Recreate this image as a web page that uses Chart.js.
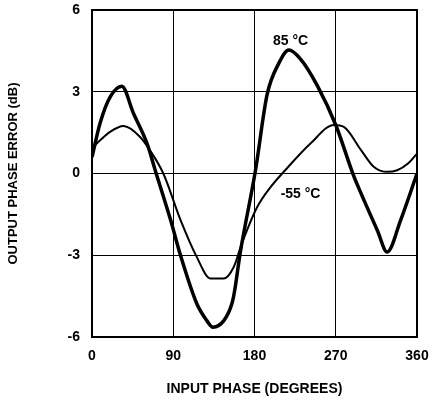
<!DOCTYPE html>
<html>
<head>
<meta charset="utf-8">
<script src="https://cdn.jsdelivr.net/npm/chart.js@4/dist/chart.umd.min.js"></script>
<style>
  html, body { margin: 0; padding: 0; background: #fff; }
  #wrap { width: 437px; height: 405px; }
</style>
</head>
<body>
<div id="wrap"><canvas id="phaseChart" width="437" height="405"></canvas></div>
<script>
// Input phase (degrees) and output phase error (dB)
const phaseHot = [0, 9, 20, 33, 46, 61, 70, 87, 98, 116, 127, 134, 146, 155, 158, 164, 181, 194, 207, 218, 231, 250, 270, 290, 298, 316, 327, 342, 360];
const errorHot = [0.6, 1.85, 2.8, 3.2, 2.2, 1.1, 0.12, -1.7, -3.0, -4.77, -5.39, -5.64, -5.4, -4.77, -4.3, -2.95, 0.1, 2.9, 4.05, 4.53, 4.2, 3.2, 1.78, -0.1, -0.73, -2.08, -2.88, -1.7, 0];

const phaseCold = [0, 9, 20, 35, 53, 64, 79, 98, 116, 131, 146, 157, 166, 183, 198, 214, 242, 268, 279, 298, 312, 327, 338, 350, 360];
const errorCold = [0.93, 1.22, 1.53, 1.74, 1.35, 0.86, 0, -1.7, -3.06, -3.85, -3.85, -3.43, -2.57, -1.23, -0.49, 0.12, 1.1, 1.78, 1.71, 0.86, 0.25, 0.06, 0.12, 0.37, 0.73];

const xTicks = [0, 90, 180, 270, 360];
const yTicks = [-6, -3, 0, 3, 6];

// curve labels: [text, phase, error]
const curveLabels = [
    ['85 \u00B0C', 220, 4.84],
    ['-55 \u00B0C', 231, -0.76]
];

function toPoints(xs, ys) {
    return xs.map(function(x, i) { return { x: x, y: ys[i] }; });
}

Chart.defaults.color = '#000';
Chart.defaults.font.family = '"Liberation Sans", Arial, sans-serif';

// draws the temperature labels next to the curves and the box round the plot
const curveLabelPlugin = {
    id: 'curveLabels',
    afterDatasetsDraw: function(chart) {
        const ctx = chart.ctx;
        const xs = chart.scales.x;
        const ys = chart.scales.y;
        const a = chart.chartArea;
        ctx.save();
        ctx.strokeStyle = '#000';
        ctx.lineWidth = 2;
        ctx.strokeRect(a.left, a.top, a.right - a.left, a.bottom - a.top);
        ctx.font = 'bold 14px "Liberation Sans", Arial, sans-serif';
        ctx.fillStyle = '#000';
        ctx.textAlign = 'center';
        ctx.textBaseline = 'middle';
        curveLabels.forEach(function(l) {
            ctx.fillText(l[0], xs.getPixelForValue(l[1]), ys.getPixelForValue(l[2]));
        });
        ctx.restore();
    }
};

const ctx = document.getElementById('phaseChart').getContext('2d');
new Chart(ctx, {
    type: 'line',
    data: {
        datasets: [
            {
                label: '85 °C',
                data: toPoints(phaseHot, errorHot),
                borderColor: '#000',
                borderWidth: 3.5,
                pointRadius: 0,
                cubicInterpolationMode: 'monotone',
                fill: false
            },
            {
                label: '-55 °C',
                data: toPoints(phaseCold, errorCold),
                borderColor: '#000',
                borderWidth: 2,
                pointRadius: 0,
                cubicInterpolationMode: 'monotone',
                fill: false
            }
        ]
    },
    options: {
        responsive: false,
        animation: false,
        layout: {
            padding: { left: 0, right: 20, top: 10, bottom: 0 }
        },
        plugins: {
            legend: { display: false },
            tooltip: { enabled: false }
        },
        scales: {
            x: {
                type: 'linear',
                min: 0,
                max: 360,
                afterBuildTicks: function(scale) {
                    scale.ticks = xTicks.map(function(v) { return { value: v }; });
                },
                afterFit: function(scale) {
                    scale.height = 68;
                    scale.paddingLeft = 0;
                    scale.paddingRight = 0;
                },
                grid: { color: '#000', lineWidth: 1, drawTicks: false },
                border: { color: '#000', width: 2 },
                ticks: {
                    padding: 11,
                    font: { size: 14, weight: 'bold' }
                },
                title: {
                    display: true,
                    text: 'INPUT PHASE (DEGREES)',
                    font: { size: 14, weight: 'bold' },
                    padding: { top: 0, bottom: 7 }
                }
            },
            y: {
                min: -6,
                max: 6,
                afterBuildTicks: function(scale) {
                    scale.ticks = yTicks.map(function(v) { return { value: v }; });
                },
                afterFit: function(scale) {
                    scale.width = 92;
                    scale.paddingTop = 0;
                    scale.paddingBottom = 0;
                },
                grid: { color: '#000', lineWidth: 1, drawTicks: false },
                border: { color: '#000', width: 2 },
                ticks: {
                    padding: 12,
                    font: { size: 14, weight: 'bold' }
                },
                title: {
                    display: true,
                    text: 'OUTPUT PHASE ERROR (dB)',
                    font: { size: 13, weight: 'bold' },
                    padding: { top: 6, bottom: 0 }
                }
            }
        }
    },
    plugins: [curveLabelPlugin]
});
</script>
</body>
</html>
